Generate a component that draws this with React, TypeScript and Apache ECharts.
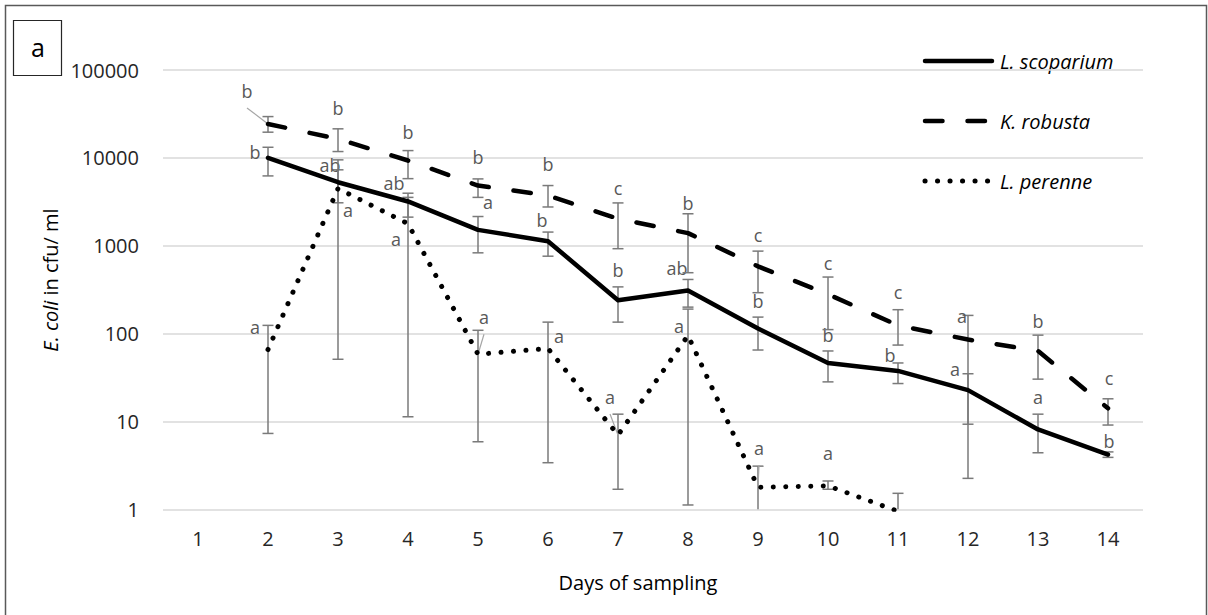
import React, { useEffect, useRef } from "react";
import * as echarts from "echarts";

// Days of sampling
const days = ["1", "2", "3", "4", "5", "6", "7", "8", "9", "10", "11", "12", "13", "14"];

// E. coli counts (cfu/ml): means, upper and lower error-bar ends, significance letters
const scoparium = [null, 10000, 5280, 3190, 1515, 1125, 240, 310, 114, 46.3, 37.6, 22.7, 8.1, 4.2];
const scopariumHigh = [null, 13200, 7310, 3960, 2150, 1430, 340, 413, 154, 63.4, 46.3, 34.9, 12.1, 4.5];
const scopariumLow = [null, 6230, 3080, 2115, 830, 760, 135, 200, 65, 28.2, 27, 9.3, 4.4, 3.9];
const scopariumLetters = ["", "b", "ab", "ab", "a", "b", "b", "ab", "b", "b", "b", "a", "a", "b"];

const robusta = [null, 24300, 16400, 9330, 4840, 3730, 2030, 1390, 582, 280, 124, 85.5, 63.4, 14.1];
const robustaHigh = [null, 29500, 21400, 12100, 5760, 4840, 3070, 2310, 868, 440, 187, 161, 96, 18.1];
const robustaLow = [null, 19600, 11800, 5800, 3550, 2760, 925, 493, 292, 111, 74, 2.25, 30.3, 9.1];
const robustaLetters = ["", "b", "b", "b", "b", "b", "c", "b", "c", "c", "c", "a", "b", "c"];

const perenne = [null, 65.8, 4470, 1780, 58.2, 67.6, 7.0, 95, 1.78, 1.85, 0.95, null, null, null];
const perenneHigh = [null, 124, 9490, 3550, 109, 135, 12.1, 190, 3.1, 2.1, 1.52, null, null, null];
const perenneLow = [null, 7.3, 51, 11.3, 5.87, 3.39, 1.69, 1.12, 0.4, 1.69, 0.4, null, null, null];
const perenneLetters = ["", "a", "a", "a", "a", "a", "a", "a", "a", "a", "", "", "", ""];

const seriesNames = ["L. scoparium", "K. robusta", "L. perenne"];

// Letter placement relative to each point, in pixels: [dx, dy, leader line?]
type Offset = [number, number, number] | null;
const scopariumLabelPos: Offset[] = [
  null, [-13, -6, 0], [-8, -17, 0], [-14, -18, 0], [10, -28, 0], [-6, -21, 0], [0, -30, 0],
  [-11, -22, 0], [0, -28, 0], [0, -28, 0], [-8, -16, 0], [-13, -21, 0], [0, -32, 0], [1, -14, 0],
];
const robustaLabelPos: Offset[] = [
  null, [-21, -33, 1], [0, -31, 0], [0, -29, 0], [0, -29, 0], [0, -31, 0], [0, -31, 0],
  [0, -30, 0], [0, -31, 0], [0, -31, 0], [0, -33, 0], [-6, -24, 0], [0, -30, 0], [1, -30, 0],
];
const perenneLabelPos: Offset[] = [
  null, [-13, -23, 0], [10, 21, 0], [-12, 15, 0], [6, -37, 1], [11, -13, 0], [-8, -38, 1],
  [-9, -10, 0], [1, -39, 1], [0, -33, 0], null, null, null, null,
];

const FONT = "'Open Sans', 'Noto Sans', sans-serif";
const AXIS_MIN = 1;

// Line looks shared by the series and the legend keys
const solidStyle = { width: 4.5, dash: null as number[] | null };
const dashedStyle = { width: 4.5, dash: [17.5, 25] };
const dottedStyle = { width: 5, dash: [0.1, 12.4] };
const lineLooks = [solidStyle, dashedStyle, dottedStyle];

function errorBars(
  id: string,
  mean: (number | null)[],
  low: (number | null)[],
  high: (number | null)[],
  letters: string[],
  pos: Offset[]
) {
  const idx: number[] = [];
  const data: number[][] = [];
  mean.forEach((m, i) => {
    if (m == null) return;
    idx.push(i);
    data.push([i, m as number, low[i] as number, high[i] as number]);
  });
  return {
    id,
    type: "custom",
    silent: true,
    z: 1,
    data,
    encode: { x: 0, y: 1 },
    renderItem: (params: any, api: any) => {
      const i = idx[params.dataIndex];
      const m = api.value(1);
      const lo = api.value(2);
      const hi = api.value(3);
      const p = api.coord([i, m]);
      const x = p[0];
      const clippedLow = lo < AXIS_MIN;
      const top = api.coord([i, hi])[1];
      const bot = api.coord([i, clippedLow ? AXIS_MIN : lo])[1];
      const stroke = { stroke: "#7a7a7a", lineWidth: 1.5 };
      const children: any[] = [
        { type: "line", shape: { x1: x, y1: top, x2: x, y2: bot }, style: stroke },
        { type: "line", shape: { x1: x - 5.5, y1: top, x2: x + 5.5, y2: top }, style: stroke },
      ];
      if (!clippedLow) {
        children.push({ type: "line", shape: { x1: x - 5.5, y1: bot, x2: x + 5.5, y2: bot }, style: stroke });
      }
      const o = pos[i];
      const letter = letters[i];
      if (o && letter) {
        children.push({
          type: "text",
          x: x + o[0],
          y: p[1] + o[1],
          style: {
            text: letter,
            fill: "#595959",
            fontSize: 18,
            fontFamily: FONT,
            align: "center",
            verticalAlign: "middle",
          },
        });
        if (o[2]) {
          children.push({
            type: "line",
            shape: { x1: x + o[0], y1: p[1] + o[1] + 17, x2: x, y2: p[1] },
            style: { stroke: "#a6a6a6", lineWidth: 1.2 },
          });
        }
      }
      return { type: "group", children };
    },
  };
}

function lineSeries(name: string, data: (number | null)[], look: { width: number; dash: number[] | null }) {
  return {
    name,
    type: "line",
    data,
    symbol: "none",
    z: 3,
    clip: true,
    lineStyle: {
      color: "#000",
      width: look.width,
      type: look.dash ? look.dash : "solid",
      cap: "round",
      join: "round",
    },
    itemStyle: { color: "#000" },
  };
}

// Legend keys drawn as graphic lines with the same strokes as the series
function legendGraphics() {
  const items: any[] = [];
  seriesNames.forEach((name, k) => {
    const y = 61 + k * 60;
    const look = lineLooks[k];
    items.push({
      type: "line",
      silent: true,
      shape: { x1: 925, y1: y, x2: k === 2 ? 990 : 992, y2: y },
      style: {
        stroke: "#000",
        lineWidth: look.width,
        lineCap: "round",
        lineDash: look.dash || undefined,
      },
    });
    items.push({
      type: "text",
      silent: true,
      x: 1000,
      y,
      style: {
        text: name,
        fontSize: 20,
        fontStyle: "italic",
        fontFamily: FONT,
        fill: "#000",
        align: "left",
        verticalAlign: "middle",
      },
    });
  });
  return items;
}

export default function App() {
  const ref = useRef<HTMLDivElement>(null);

  useEffect(() => {
    const chart = echarts.init(ref.current!, null, { renderer: "svg" });
    const option: any = {
      animation: false,
      textStyle: { fontFamily: FONT },
      grid: { left: 163, right: 65, top: 70, bottom: 105.7, containLabel: false },
      xAxis: {
        type: "category",
        data: days,
        boundaryGap: true,
        axisLine: { show: false },
        axisTick: { show: false },
        axisLabel: { fontSize: 20, color: "#262626", margin: 19, fontFamily: FONT },
        splitLine: { show: false },
      },
      yAxis: {
        type: "log",
        logBase: 10,
        min: 1,
        max: 100000,
        axisLine: { show: false },
        axisTick: { show: false },
        axisLabel: {
          fontSize: 20,
          color: "#262626",
          margin: 24,
          fontFamily: FONT,
          formatter: (v: number) => String(Math.round(v)),
        },
        splitLine: { show: true, lineStyle: { color: "#d9d9d9", width: 1.5 } },
      },
      graphic: [
        {
          type: "rect",
          shape: { x: 5.5, y: 5.5, width: 1201, height: 620 },
          style: { fill: "none", stroke: "#595959", lineWidth: 1.5 },
          silent: true,
        },
        {
          type: "rect",
          shape: { x: 13.5, y: 20.5, width: 48, height: 55 },
          style: { fill: "#fff", stroke: "#262626", lineWidth: 1.2 },
          silent: true,
        },
        {
          type: "text",
          x: 38,
          y: 47,
          style: { text: "a", fontSize: 25, fontFamily: FONT, fill: "#000", align: "center", verticalAlign: "middle" },
          silent: true,
        },
        {
          type: "text",
          x: 50,
          y: 280,
          rotation: Math.PI / 2,
          style: {
            text: "{i|E. coli} in cfu/ ml",
            rich: { i: { fontStyle: "italic", fontSize: 20, fontFamily: FONT, fill: "#000" } },
            fontSize: 20,
            fontFamily: FONT,
            fill: "#000",
            align: "center",
            verticalAlign: "middle",
          },
          silent: true,
        },
        {
          type: "text",
          x: 638,
          y: 582,
          style: {
            text: "Days of sampling",
            fontSize: 20,
            fontFamily: FONT,
            fill: "#000",
            align: "center",
            verticalAlign: "middle",
          },
          silent: true,
        },
        ...legendGraphics(),
      ],
      series: [
        errorBars("errScoparium", scoparium, scopariumLow, scopariumHigh, scopariumLetters, scopariumLabelPos),
        errorBars("errRobusta", robusta, robustaLow, robustaHigh, robustaLetters, robustaLabelPos),
        errorBars("errPerenne", perenne, perenneLow, perenneHigh, perenneLetters, perenneLabelPos),
        lineSeries(seriesNames[0], scoparium, solidStyle),
        lineSeries(seriesNames[1], robusta, dashedStyle),
        lineSeries(seriesNames[2], perenne, dottedStyle),
      ],
    };
    chart.setOption(option);
    return () => chart.dispose();
  }, []);

  return (
    <div
      ref={ref}
      style={{ position: "fixed", left: 0, top: 0, width: 1208, height: 615, background: "#fff" }}
    />
  );
}
